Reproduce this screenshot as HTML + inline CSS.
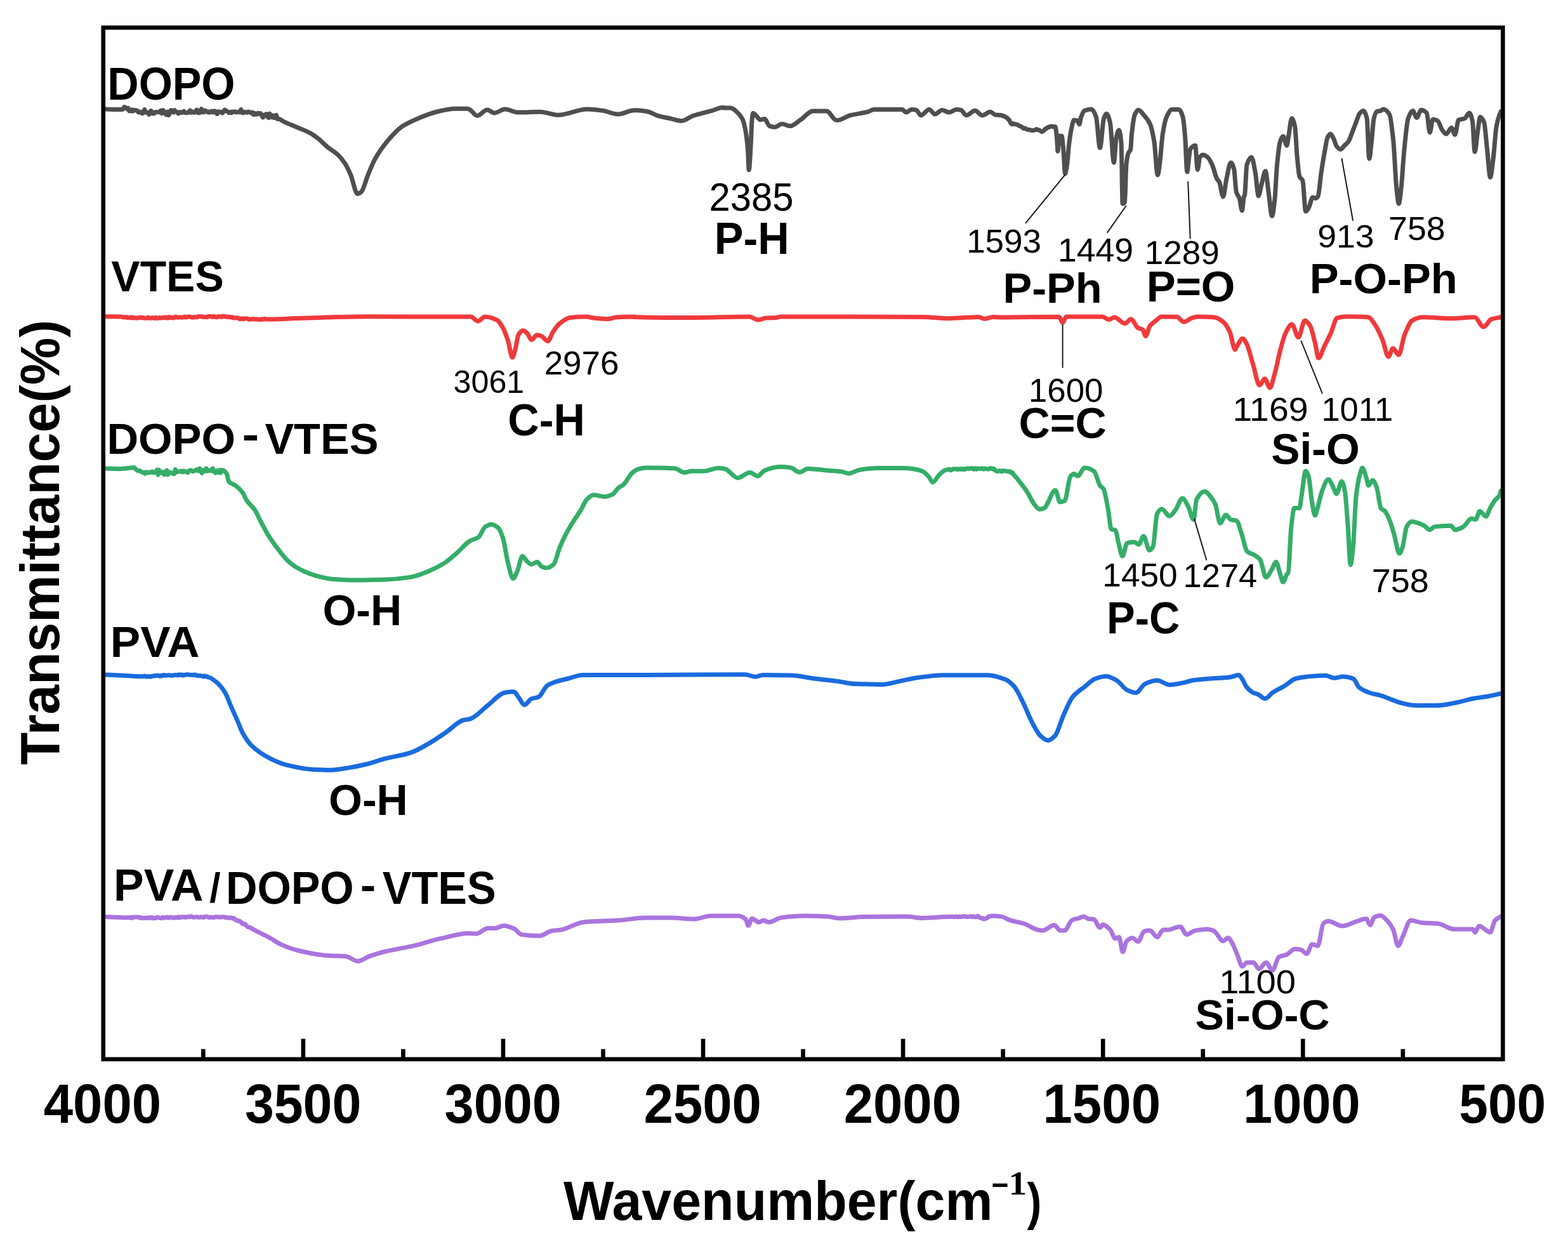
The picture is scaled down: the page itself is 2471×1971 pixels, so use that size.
<!DOCTYPE html>
<html><head><meta charset="utf-8"><title>FTIR spectra</title>
<style>html,body{margin:0;padding:0;background:#fff;}svg{display:block;}</style>
</head><body>
<svg width="2471" height="1971" viewBox="0 0 2471 1971">
<rect width="2471" height="1971" fill="#fff"/>
<path d="M165.8,172.0C174.8,172.2 183.9,172.5 193.0,172.5C194.0,172.5 195.0,168.5 196.0,168.5C196.7,168.5 197.5,169.1 198.2,169.6C198.9,170.2 199.6,171.9 200.3,171.9C200.9,171.9 201.5,170.2 202.1,170.2C202.6,170.2 203.0,174.7 203.5,174.8C204.3,174.9 205.1,175.0 205.9,175.0C206.5,175.0 207.1,172.7 207.8,172.7C208.3,172.7 208.9,175.3 209.5,175.3C210.1,175.3 210.6,173.3 211.1,173.3C211.6,173.3 212.2,173.5 212.7,173.6C213.4,173.7 214.1,173.8 214.8,173.9C215.2,173.9 215.7,174.0 216.1,174.1C216.8,174.3 217.5,176.8 218.2,176.9C218.7,176.9 219.2,176.9 219.7,176.9C220.1,176.9 220.5,176.3 220.9,176.3C221.3,176.3 221.7,176.4 222.1,176.4C222.7,176.5 223.2,178.8 223.8,178.8C224.5,178.8 225.2,178.4 225.9,177.9C226.5,177.4 227.1,172.5 227.8,172.5C228.3,172.5 228.8,175.4 229.2,176.1C229.7,176.6 230.1,177.2 230.5,177.2C231.3,177.2 232.0,177.2 232.8,177.2C233.5,177.2 234.2,180.5 235.0,180.5C235.4,180.5 235.8,177.9 236.2,177.1C236.8,175.9 237.4,174.4 238.0,174.4C238.6,174.4 239.1,175.5 239.7,176.3C240.2,177.0 240.7,179.1 241.2,179.1C242.0,179.1 242.9,178.8 243.7,178.3C244.1,178.1 244.5,176.8 245.0,176.7C245.7,176.4 246.3,176.2 247.0,176.2C247.8,176.2 248.5,176.6 249.2,176.7C249.9,176.9 250.6,177.0 251.3,177.0C252.0,177.0 252.8,174.1 253.5,174.1C254.1,174.1 254.7,178.7 255.2,178.7C255.7,178.7 256.2,173.4 256.8,173.4C257.4,173.4 258.1,175.0 258.8,175.8C259.3,176.4 259.9,176.9 260.4,177.6C261.0,178.4 261.6,180.8 262.2,180.8C262.9,180.8 263.6,176.1 264.3,176.1C264.7,176.1 265.1,181.6 265.5,181.6C266.2,181.6 266.8,179.6 267.4,178.3C268.1,177.0 268.8,173.5 269.5,173.5C270.3,173.5 271.1,175.6 271.9,176.2C272.6,176.6 273.2,177.2 273.8,177.2C274.3,177.2 274.7,173.6 275.1,173.6C275.6,173.6 276.1,175.6 276.6,175.8C277.4,176.2 278.2,176.1 279.1,176.4C279.7,176.6 280.4,178.9 281.1,178.9C281.6,178.9 282.0,176.7 282.5,176.7C283.1,176.7 283.7,176.7 284.4,176.8C284.9,176.9 285.4,177.6 285.9,177.6C286.7,177.6 287.6,177.3 288.4,176.9C288.9,176.6 289.4,175.3 289.8,175.3C290.2,175.3 290.6,177.1 290.9,177.3C291.7,177.6 292.4,177.8 293.2,177.8C293.8,177.8 294.3,177.6 294.9,177.5C295.6,177.3 296.4,177.3 297.1,177.2C297.9,177.0 298.6,174.1 299.4,174.1C300.0,174.1 300.5,177.5 301.1,177.5C301.5,177.5 301.9,175.7 302.4,175.7C303.0,175.7 303.6,176.2 304.2,176.5C304.7,176.8 305.2,177.4 305.7,177.4C306.5,177.4 307.2,176.9 307.9,176.4C308.6,175.9 309.4,173.1 310.2,173.1C310.7,173.1 311.3,177.8 311.9,177.8C312.6,177.8 313.4,177.7 314.2,177.7C314.8,177.6 315.4,177.5 316.0,177.1C316.4,176.9 316.8,171.6 317.2,171.6C317.7,171.6 318.2,172.5 318.7,173.3C319.2,174.1 319.7,176.9 320.3,176.9C320.7,176.9 321.2,174.7 321.7,174.5C322.3,174.2 322.8,174.0 323.4,174.0C324.1,174.0 324.8,176.4 325.6,176.4C326.0,176.4 326.4,176.3 326.7,176.2C327.2,176.1 327.6,175.8 328.0,175.8C328.5,175.8 329.0,177.3 329.4,177.3C330.2,177.3 331.1,176.7 331.9,176.3C332.5,176.0 333.2,175.0 333.8,175.0C334.5,175.0 335.1,177.3 335.8,177.3C336.5,177.3 337.2,174.7 337.9,174.7C338.7,174.7 339.5,175.2 340.2,175.7C340.8,176.2 341.5,179.6 342.1,179.6C342.8,179.6 343.6,175.7 344.3,175.7C345.1,175.7 345.8,176.4 346.6,176.4C347.3,176.5 347.9,176.5 348.6,176.5C349.2,176.5 349.8,178.3 350.4,178.3C351.2,178.3 351.9,176.1 352.7,175.0C353.2,174.3 353.7,173.0 354.2,173.0C355.0,173.0 355.8,174.5 356.6,174.9C357.4,175.4 358.3,175.4 359.1,175.9C359.6,176.2 360.1,177.8 360.7,177.8C361.3,177.8 361.9,176.7 362.5,176.7C363.1,176.7 363.8,177.9 364.4,177.9C364.8,177.9 365.2,175.9 365.6,175.9C366.4,175.9 367.2,176.6 368.0,176.6C368.7,176.6 369.4,175.7 370.2,175.7C370.7,175.7 371.2,176.8 371.8,176.8C372.4,176.8 373.1,176.8 373.8,176.8C374.5,176.8 375.2,176.3 375.9,176.3C376.7,176.3 377.5,176.8 378.3,176.8C378.8,176.8 379.3,172.4 379.8,172.4C380.2,172.4 380.7,175.6 381.1,176.3C381.7,177.2 382.3,178.1 382.9,178.1C383.6,178.1 384.3,176.2 385.1,176.2C385.7,176.2 386.3,176.5 386.9,176.6C387.7,176.8 388.4,177.4 389.2,177.4C390.0,177.4 390.8,176.0 391.6,176.0C392.4,176.0 393.3,177.0 394.1,177.3C394.5,177.4 394.9,177.5 395.4,177.6C395.7,177.8 396.1,178.4 396.5,178.4C396.8,178.4 397.2,177.1 397.6,177.1C398.4,177.1 399.2,180.7 400.0,180.7C400.4,180.7 400.7,178.3 401.1,178.3C401.5,178.3 401.9,180.3 402.3,180.3C403.0,180.3 403.8,180.2 404.6,180.1C405.3,179.9 406.1,178.1 406.8,178.1C407.5,178.1 408.3,179.6 409.0,179.6C409.5,179.6 409.9,178.5 410.4,178.5C411.1,178.5 411.9,180.3 412.6,181.6C413.2,182.5 413.8,185.0 414.4,185.0C415.1,185.0 415.8,181.1 416.5,181.1C417.2,181.1 417.9,181.5 418.6,181.5C419.0,181.5 419.4,179.5 419.7,179.5C420.3,179.5 421.0,182.8 421.6,183.7C422.2,184.6 422.8,185.7 423.4,185.7C423.8,185.7 424.2,179.0 424.7,179.0C425.4,179.0 426.1,181.5 426.9,182.4C427.6,183.3 428.3,184.7 429.0,184.7C429.5,184.7 430.0,181.9 430.5,181.9C430.9,181.9 431.4,185.6 431.8,185.6C432.6,185.6 433.4,185.1 434.2,184.4C434.6,184.0 435.0,181.3 435.4,181.3C435.9,181.3 436.4,187.6 437.0,187.6C437.4,187.6 437.8,186.9 438.2,186.9C441.0,186.9 443.8,190.0 446.6,191.3C453.1,194.4 459.6,196.9 466.1,199.7C473.5,202.9 481.0,205.3 488.4,209.4C493.0,211.9 497.7,215.5 502.3,219.1C506.9,222.8 511.6,227.9 516.2,231.7C521.8,236.2 527.3,238.9 532.9,244.2C536.6,247.7 540.3,252.3 544.0,258.1C546.8,262.4 549.6,268.4 552.4,274.8C556.1,283.3 559.8,305.4 563.5,305.4C565.4,305.4 567.2,304.1 569.1,302.6C572.8,299.8 576.5,283.6 580.2,274.8C583.9,266.0 587.6,256.4 591.4,249.8C597.8,238.2 604.3,229.6 610.8,221.9C618.3,213.2 625.7,204.7 633.1,199.7C642.4,193.4 651.7,189.6 660.9,185.8C670.2,181.9 679.5,178.1 688.8,176.0C698.0,173.9 707.3,171.3 716.6,171.3C723.1,171.3 729.6,171.3 736.1,171.3C737.4,171.3 738.7,171.9 740.0,172.5C744.0,174.1 748.0,182.3 752.1,182.3C757.3,182.3 762.6,173.0 767.8,173.0C771.5,173.0 775.3,178.0 779.0,178.0C784.5,178.0 790.1,171.9 795.7,171.9C802.5,171.9 809.3,177.1 816.1,177.1C827.8,177.1 839.6,176.2 851.3,176.2C860.6,176.2 869.9,181.2 879.1,181.2C894.6,181.2 910.1,171.9 925.5,171.9C933.6,171.9 941.6,173.2 949.6,174.3C957.7,175.4 965.7,179.9 973.8,179.9C982.4,179.9 991.1,173.8 999.7,173.8C1005.9,173.8 1012.1,174.4 1018.3,175.3C1024.5,176.1 1030.7,180.5 1036.8,182.3C1044.3,184.4 1051.7,185.7 1059.1,187.3C1064.1,188.4 1069.0,190.5 1074.0,190.5C1080.1,190.5 1086.3,184.4 1092.5,182.3C1101.8,179.2 1111.1,177.4 1120.3,174.9C1126.9,173.1 1133.4,169.3 1140.0,169.3C1140.0,169.3 1140.0,170.1 1140.0,170.1C1143.7,170.1 1147.3,170.1 1150.9,170.1C1155.3,170.1 1159.6,174.8 1163.9,179.1C1166.1,181.2 1168.3,184.0 1170.5,188.8C1172.1,192.5 1173.7,199.1 1175.3,208.4C1176.4,214.5 1177.5,224.0 1178.6,237.7C1179.1,244.5 1179.7,267.8 1180.2,267.8C1181.0,267.8 1181.9,250.1 1182.7,237.7C1183.5,225.2 1184.3,196.6 1185.1,188.8C1185.6,183.7 1186.2,178.3 1186.7,178.3C1188.4,178.3 1190.0,180.8 1191.6,182.3C1193.8,184.3 1196.0,188.8 1198.1,188.8C1200.3,188.8 1202.5,187.2 1204.6,187.2C1207.4,187.2 1210.1,197.7 1212.8,198.6C1215.5,199.5 1218.2,200.2 1220.9,200.2C1224.7,200.2 1228.5,195.3 1232.3,195.3C1236.7,195.3 1241.0,198.6 1245.3,198.6C1250.8,198.6 1256.2,192.3 1261.6,188.8C1268.1,184.6 1274.6,175.0 1281.1,175.0C1288.2,175.0 1295.3,175.0 1302.3,175.0C1307.7,175.0 1313.2,189.6 1318.6,189.6C1325.7,189.6 1332.9,183.6 1340.0,181.7C1349.3,179.3 1358.6,178.8 1367.8,176.2C1370.9,175.3 1374.0,172.5 1377.1,172.5C1391.9,172.5 1406.8,172.5 1421.6,172.5C1423.8,172.5 1426.0,177.1 1428.1,177.1C1430.9,177.1 1433.7,172.5 1436.5,172.5C1438.9,172.5 1441.4,172.8 1443.9,173.4C1446.4,174.0 1448.8,181.7 1451.3,181.7C1455.6,181.7 1460.0,172.5 1464.3,172.5C1467.4,172.5 1470.5,179.9 1473.6,179.9C1477.3,179.9 1481.0,173.4 1484.7,173.4C1488.4,173.4 1492.1,177.1 1495.8,177.1C1499.6,177.1 1503.3,172.5 1507.0,172.5C1509.4,172.5 1511.9,172.9 1514.4,173.4C1517.2,174.0 1520.0,181.7 1522.7,181.7C1527.4,181.7 1532.0,174.3 1536.7,174.3C1540.4,174.3 1544.1,181.7 1547.8,181.7C1552.1,181.7 1556.5,176.2 1560.8,176.2C1563.3,176.2 1565.7,180.4 1568.2,180.8C1571.9,181.4 1575.6,181.0 1579.3,181.7C1579.6,181.8 1579.8,182.7 1580.0,182.7C1580.5,182.8 1581.1,182.7 1581.6,182.8C1582.5,182.9 1583.4,183.8 1584.3,184.3C1585.2,184.8 1586.1,184.9 1587.0,185.6C1587.5,186.0 1588.1,188.0 1588.6,188.1C1589.0,188.1 1589.4,188.1 1589.8,188.2C1590.7,188.3 1591.6,192.4 1592.5,193.5C1593.4,194.6 1594.2,195.8 1595.0,195.8C1595.6,195.8 1596.1,194.6 1596.7,194.6C1597.2,194.6 1597.7,195.5 1598.1,195.5C1598.9,195.6 1599.7,195.6 1600.4,195.7C1601.2,195.7 1602.0,196.0 1602.8,196.3C1603.4,196.6 1604.0,197.0 1604.6,197.3C1605.1,197.6 1605.6,198.0 1606.2,198.2C1607.0,198.6 1607.8,198.7 1608.6,199.1C1609.5,199.5 1610.4,200.3 1611.3,201.0C1611.9,201.5 1612.6,202.4 1613.2,202.4C1613.9,202.4 1614.6,202.0 1615.4,202.0C1615.8,202.0 1616.2,202.8 1616.7,203.1C1617.5,203.6 1618.3,204.2 1619.1,204.2C1619.7,204.3 1620.4,204.2 1621.1,204.3C1621.6,204.3 1622.1,204.4 1622.6,204.5C1623.4,204.6 1624.2,205.0 1625.0,205.2C1625.7,205.3 1626.3,205.5 1627.0,205.5C1627.7,205.5 1628.5,205.2 1629.3,205.1C1630.1,205.0 1630.9,205.0 1631.7,204.7C1632.1,204.6 1632.6,203.6 1633.0,203.6C1633.9,203.6 1634.8,204.4 1635.7,204.6C1636.2,204.6 1636.6,204.6 1637.1,204.7C1638.0,204.8 1638.9,205.8 1639.9,206.4C1640.4,206.8 1641.0,207.5 1641.5,207.5C1642.1,207.5 1642.6,207.2 1643.1,206.9C1643.7,206.7 1644.2,206.5 1644.7,206.1C1645.6,205.5 1646.4,203.2 1647.3,203.0C1647.7,203.0 1648.1,203.0 1648.6,202.9C1649.5,202.8 1650.4,200.5 1651.3,200.5C1651.8,200.5 1652.3,200.6 1652.8,200.6C1653.6,200.6 1654.4,199.3 1655.2,199.1C1655.9,199.0 1656.6,198.9 1657.4,198.9C1658.1,198.9 1658.7,199.7 1659.4,199.7C1660.5,199.7 1661.7,199.4 1662.8,199.4C1663.7,199.4 1664.7,208.8 1665.6,217.9C1666.0,222.2 1666.5,238.3 1666.9,238.3C1667.7,238.3 1668.5,214.2 1669.3,214.2C1670.6,214.2 1671.8,214.2 1673.0,214.2C1674.0,214.2 1674.9,227.2 1675.8,236.5C1676.7,245.8 1677.7,273.6 1678.6,273.6C1679.5,273.6 1680.4,266.4 1681.4,260.6C1682.6,252.9 1683.8,232.8 1685.1,223.5C1686.3,214.2 1687.6,206.4 1688.8,201.2C1690.0,196.0 1691.3,189.2 1692.5,189.2C1694.4,189.2 1696.2,189.5 1698.1,190.1C1699.0,190.4 1699.9,195.7 1700.9,195.7C1701.8,195.7 1702.7,187.0 1703.6,184.5C1705.5,179.7 1707.3,175.1 1709.2,174.3C1712.8,172.8 1716.4,172.0 1720.0,172.0C1722.4,172.0 1724.9,177.3 1727.3,184.2C1729.4,189.9 1731.4,233.0 1733.4,233.0C1735.5,233.0 1737.5,192.1 1739.5,186.6C1741.0,182.8 1742.4,179.3 1743.8,179.3C1745.6,179.3 1747.5,185.6 1749.3,192.7C1751.3,200.7 1753.4,256.2 1755.4,256.2C1756.6,256.2 1757.8,222.7 1759.1,217.1C1760.5,210.6 1761.9,204.9 1763.3,204.9C1764.6,204.9 1765.8,212.4 1767.0,225.7C1767.7,233.2 1768.4,320.9 1769.1,320.9C1770.2,320.9 1771.4,320.1 1772.5,318.5C1773.3,317.3 1774.1,267.9 1774.9,259.9C1775.9,249.9 1777.0,244.3 1778.0,241.6C1779.2,238.3 1780.4,239.4 1781.6,235.4C1782.3,233.5 1782.9,216.5 1783.5,211.0C1785.1,196.4 1786.7,184.1 1788.4,180.5C1790.2,176.4 1792.0,173.2 1793.9,173.2C1796.9,173.2 1800.0,178.2 1803.0,181.7C1806.3,185.5 1809.5,188.8 1812.8,196.4C1814.8,201.1 1816.8,210.9 1818.9,223.2C1820.7,234.3 1822.5,275.7 1824.4,275.7C1825.4,275.7 1826.4,266.7 1827.4,259.9C1829.0,249.0 1830.7,221.1 1832.3,211.0C1834.3,198.4 1836.4,188.5 1838.4,184.2C1841.3,178.1 1844.1,172.6 1847.0,172.6C1850.6,172.6 1854.3,172.6 1857.9,172.6C1860.0,172.6 1862.0,177.4 1864.0,184.2C1865.3,188.2 1866.5,202.5 1867.7,217.1C1868.7,229.4 1869.7,270.8 1870.8,270.8C1871.8,270.8 1872.8,254.8 1873.8,247.7C1874.4,243.3 1875.0,236.5 1875.6,235.4C1878.3,231.1 1880.9,229.3 1883.6,229.3C1884.8,229.3 1886.0,267.2 1887.2,267.2C1888.5,267.2 1889.7,249.3 1890.9,247.7C1892.5,245.4 1894.2,244.0 1895.8,244.0C1898.2,244.0 1900.7,245.8 1903.1,247.7C1905.5,249.5 1908.0,254.6 1910.4,259.9C1912.9,265.1 1915.3,277.5 1917.8,281.8C1919.0,284.0 1920.2,284.4 1921.4,286.7C1923.5,290.6 1925.5,309.9 1927.5,309.9C1929.1,309.9 1930.8,291.6 1932.4,284.3C1934.8,273.3 1937.3,256.2 1939.7,256.2C1941.4,256.2 1943.0,260.4 1944.6,266.0C1945.8,270.2 1947.1,298.4 1948.3,302.6C1949.9,308.2 1951.5,307.8 1953.2,312.4C1954.6,316.4 1956.0,331.9 1957.4,331.9C1958.4,331.9 1959.5,308.7 1960.5,308.7C1960.7,308.7 1961.0,308.7 1961.2,308.7C1962.4,308.7 1963.7,263.8 1964.9,259.9C1967.3,251.9 1969.8,247.7 1972.2,247.7C1974.2,247.7 1976.3,261.3 1978.3,272.1C1979.9,280.7 1981.6,308.7 1983.2,308.7C1984.8,308.7 1986.4,296.2 1988.1,290.4C1990.1,283.1 1992.1,269.6 1994.2,269.6C1995.8,269.6 1997.4,291.5 1999.1,302.6C2000.9,315.1 2002.7,340.4 2004.6,340.4C2006.0,340.4 2007.4,327.1 2008.8,314.8C2010.0,304.2 2011.3,272.3 2012.5,259.9C2014.1,243.3 2015.7,227.9 2017.4,223.2C2019.0,218.6 2020.6,214.7 2022.3,214.7C2024.1,214.7 2025.9,229.3 2027.7,229.3C2028.8,229.3 2029.8,218.9 2030.8,213.5C2032.4,204.8 2034.1,186.6 2035.7,186.6C2037.3,186.6 2038.9,191.7 2040.6,198.8C2041.8,204.1 2043.0,235.1 2044.2,247.7C2045.4,260.2 2046.7,275.4 2047.9,278.2C2049.5,281.8 2051.1,280.7 2052.8,284.3C2054.4,287.9 2056.0,333.1 2057.7,333.1C2059.3,333.1 2060.9,329.7 2062.5,327.0C2064.6,323.6 2066.6,311.1 2068.6,311.1C2070.3,311.1 2071.9,312.4 2073.5,312.4C2074.7,312.4 2076.0,310.8 2077.2,308.7C2078.8,305.9 2080.4,283.0 2082.1,272.1C2084.1,258.5 2086.1,246.5 2088.2,235.4C2089.4,228.8 2090.6,219.7 2091.8,217.1C2093.5,213.8 2095.1,211.0 2096.7,211.0C2098.3,211.0 2100.0,215.3 2101.6,218.4C2103.2,221.4 2104.9,228.6 2106.5,230.6C2108.5,233.1 2110.6,235.4 2112.6,235.4C2114.6,235.4 2116.7,231.4 2118.7,229.3C2120.7,227.3 2122.8,226.1 2124.8,223.2C2126.8,220.4 2128.9,213.7 2130.9,208.6C2132.9,203.5 2135.0,197.8 2137.0,192.7C2139.0,187.6 2141.1,180.2 2143.1,178.1C2144.9,176.2 2146.8,174.4 2148.6,174.4C2150.4,174.4 2152.3,179.0 2154.1,186.6C2155.3,191.7 2156.5,250.1 2157.8,250.1C2159.0,250.1 2160.2,233.6 2161.4,223.2C2162.6,212.9 2163.9,191.2 2165.1,186.6C2166.7,180.5 2168.3,176.3 2170.0,175.6C2172.0,174.9 2174.0,175.1 2176.1,174.4C2177.4,174.0 2178.7,172.0 2180.0,172.0C2183.3,172.0 2186.5,175.1 2189.8,180.5C2191.8,183.9 2193.8,203.6 2195.9,223.3C2197.5,239.0 2199.1,281.8 2200.8,296.5C2202.0,307.6 2203.2,320.9 2204.4,320.9C2205.6,320.9 2206.9,307.0 2208.1,296.5C2209.7,282.6 2211.3,251.5 2213.0,235.5C2215.0,215.5 2217.0,192.4 2219.1,186.6C2221.5,179.8 2224.0,174.4 2226.4,174.4C2228.4,174.4 2230.5,185.4 2232.5,185.4C2234.9,185.4 2237.4,173.2 2239.8,173.2C2242.7,173.2 2245.5,174.9 2248.4,178.1C2250.0,179.9 2251.6,208.6 2253.3,208.6C2254.9,208.6 2256.5,187.9 2258.1,187.9C2260.6,187.9 2263.0,188.9 2265.5,190.3C2267.9,191.7 2270.4,201.7 2272.8,204.9C2274.8,207.6 2276.9,211.1 2278.9,211.1C2281.8,211.1 2284.6,201.3 2287.4,201.3C2289.3,201.3 2291.1,212.3 2292.9,212.3C2294.8,212.3 2296.6,190.0 2298.4,189.1C2301.7,187.4 2304.9,188.0 2308.2,186.6C2310.6,185.6 2313.1,178.1 2315.5,178.1C2317.2,178.1 2318.8,183.2 2320.4,190.3C2321.6,195.6 2322.9,239.1 2324.1,239.1C2325.7,239.1 2327.3,215.1 2329.0,204.9C2330.2,197.3 2331.4,184.2 2332.6,184.2C2334.7,184.2 2336.7,187.7 2338.7,192.7C2340.4,196.8 2342.0,221.0 2343.6,235.5C2345.2,249.9 2346.9,279.4 2348.5,279.4C2350.1,279.4 2351.8,260.5 2353.4,247.7C2355.0,234.9 2356.6,207.7 2358.3,198.8C2359.9,190.0 2361.5,184.9 2363.2,180.5C2363.9,178.5 2364.6,177.3 2365.3,175.6" fill="none" stroke="#4f4f4f" stroke-width="7.0" stroke-linejoin="round" stroke-linecap="round"/>
<path d="M165.8,498.8C174.5,498.9 183.2,498.8 192.0,499.1C192.8,499.1 193.7,500.1 194.5,500.1C195.1,500.1 195.7,499.4 196.3,499.4C197.1,499.4 197.8,500.0 198.6,500.0C199.1,500.0 199.5,499.6 200.0,499.6C200.4,499.6 200.8,500.5 201.2,500.5C201.9,500.5 202.6,500.1 203.3,500.1C203.8,500.1 204.3,500.1 204.8,500.2C205.4,500.3 206.0,501.1 206.6,501.1C207.1,501.1 207.7,499.8 208.3,499.8C208.8,499.8 209.4,500.9 210.0,500.9C210.6,500.9 211.3,500.7 212.0,500.7C212.8,500.7 213.6,501.0 214.4,501.0C215.3,501.1 216.2,501.1 217.1,501.1C217.9,501.1 218.7,500.2 219.5,500.1C220.2,500.0 220.8,500.0 221.4,500.0C221.8,500.0 222.2,500.9 222.6,500.9C223.4,500.9 224.2,500.3 224.9,500.3C225.8,500.3 226.7,501.3 227.6,501.3C228.5,501.3 229.3,501.1 230.2,501.1C230.8,501.1 231.5,501.1 232.2,501.0C232.8,501.0 233.4,500.1 234.0,500.1C234.8,500.1 235.6,501.5 236.4,501.5C237.2,501.5 238.1,500.9 238.9,500.8C239.8,500.7 240.8,500.6 241.7,500.6C242.4,500.6 243.0,501.5 243.7,501.5C244.3,501.5 244.9,500.2 245.5,500.2C246.4,500.2 247.3,501.6 248.2,501.6C248.9,501.6 249.5,501.5 250.1,501.3C250.5,501.2 250.9,500.2 251.3,500.2C252.2,500.2 253.0,501.0 253.8,501.0C254.4,501.0 255.0,501.0 255.6,500.9C256.5,500.8 257.4,499.9 258.3,499.9C259.1,499.9 259.8,500.9 260.6,500.9C261.3,500.9 262.0,499.7 262.7,499.7C263.2,499.7 263.7,501.2 264.2,501.2C265.1,501.2 266.0,499.6 266.8,499.6C267.4,499.6 267.9,500.6 268.4,500.6C268.9,500.6 269.3,499.9 269.8,499.9C270.7,499.9 271.6,500.9 272.5,500.9C273.1,500.9 273.7,500.9 274.3,500.8C274.9,500.7 275.5,499.3 276.2,499.3C276.8,499.3 277.5,499.4 278.1,499.4C278.8,499.5 279.5,500.2 280.1,500.2C281.0,500.2 281.8,499.9 282.6,499.9C283.4,499.9 284.3,499.9 285.1,499.9C285.8,499.9 286.4,499.9 287.1,499.9C287.7,499.9 288.2,500.1 288.7,500.1C289.3,500.1 289.8,498.9 290.4,498.9C291.2,498.9 292.0,500.1 292.8,500.1C293.4,500.1 293.9,499.3 294.5,499.2C295.1,499.0 295.7,498.9 296.4,498.9C297.2,498.9 298.0,498.9 298.8,499.0C299.7,499.1 300.7,499.6 301.6,499.8C302.5,500.0 303.3,500.2 304.2,500.2C304.7,500.2 305.1,499.4 305.6,499.4C306.3,499.4 307.1,499.7 307.8,499.7C308.3,499.7 308.8,499.7 309.3,499.7C309.7,499.7 310.1,499.7 310.5,499.7C311.3,499.7 312.0,498.5 312.7,498.5C313.4,498.5 314.2,498.6 314.9,498.7C315.8,498.7 316.7,498.8 317.6,498.8C318.4,498.9 319.3,499.2 320.2,499.3C321.1,499.4 322.0,499.6 322.9,499.6C323.7,499.6 324.6,499.0 325.4,499.0C325.9,499.0 326.4,499.7 327.0,499.7C327.6,499.7 328.3,498.6 328.9,498.6C329.6,498.6 330.3,498.6 331.0,498.6C331.7,498.5 332.4,498.5 333.1,498.5C333.8,498.5 334.4,499.5 335.0,499.5C335.8,499.5 336.5,498.4 337.3,498.4C338.1,498.4 339.0,499.6 339.9,499.6C340.6,499.7 341.3,499.7 342.0,499.7C342.8,499.7 343.6,498.5 344.4,498.5C345.1,498.4 345.9,498.4 346.6,498.4C347.1,498.4 347.6,499.5 348.1,499.5C348.5,499.5 349.0,499.5 349.4,499.4C350.0,499.4 350.6,497.9 351.2,497.9C351.7,497.9 352.1,498.9 352.6,498.9C353.2,498.9 353.9,498.4 354.5,498.4C355.3,498.4 356.0,499.0 356.8,499.2C357.4,499.3 358.1,499.5 358.7,499.5C359.5,499.5 360.2,499.0 361.0,499.0C361.9,499.0 362.9,500.1 363.8,500.1C364.5,500.1 365.2,499.6 366.0,499.6C366.6,499.6 367.2,501.1 367.8,501.1C368.7,501.1 369.5,500.8 370.4,500.7C371.3,500.7 372.3,500.6 373.2,500.6C374.0,500.6 374.8,501.6 375.6,501.6C376.0,501.6 376.5,501.5 376.9,501.5C377.5,501.5 378.1,502.9 378.6,502.9C379.1,502.9 379.6,502.0 380.1,502.0C380.8,502.0 381.5,502.0 382.2,502.0C382.6,502.0 383.1,502.9 383.6,502.9C384.3,502.9 385.0,502.0 385.8,501.9C386.5,501.8 387.2,501.7 387.9,501.7C388.7,501.7 389.6,502.0 390.4,502.2C391.2,502.4 391.9,503.3 392.7,503.3C393.6,503.3 394.4,503.2 395.3,503.0C395.7,503.0 396.1,502.8 396.5,502.7C397.4,502.6 398.4,502.5 399.3,502.5C400.0,502.5 400.6,503.3 401.2,503.3C401.9,503.3 402.6,502.8 403.3,502.8C404.1,502.8 405.0,503.0 405.8,503.1C406.7,503.2 407.7,503.5 408.6,503.5C409.2,503.5 409.9,503.5 410.6,503.5C411.1,503.5 411.6,502.8 412.1,502.8C413.0,502.8 413.8,503.3 414.6,503.3C415.3,503.3 416.0,502.2 416.7,502.2C417.6,502.2 418.4,503.0 419.3,503.0C434.9,503.0 450.5,502.1 466.1,501.6C480.0,501.1 494.0,500.5 507.9,500.2C531.1,499.6 554.2,498.8 577.4,498.8C618.3,498.8 659.1,499.1 700.0,499.1C714.0,499.1 727.9,499.1 741.9,499.1C745.6,499.1 749.3,506.0 753.0,506.0C756.7,506.0 760.5,499.1 764.2,499.1C770.7,499.1 777.2,501.3 783.7,504.7C786.5,506.1 789.3,511.0 792.1,515.8C794.9,520.7 797.7,528.3 800.5,536.7C802.8,543.8 805.1,563.3 807.4,563.3C808.8,563.3 810.2,556.7 811.6,552.1C813.5,545.9 815.3,529.8 817.2,527.0C819.5,523.4 821.9,520.7 824.2,520.7C826.5,520.7 828.8,523.3 831.2,525.6C833.3,527.6 835.3,535.3 837.4,535.3C840.5,535.3 843.5,527.7 846.5,527.7C848.8,527.7 851.2,528.8 853.5,529.8C856.7,531.1 860.0,537.4 863.3,537.4C866.0,537.4 868.8,526.9 871.6,522.8C874.9,517.9 878.1,512.9 881.4,510.2C887.0,505.6 892.6,501.1 898.1,500.5C906.5,499.6 914.9,499.1 923.3,499.1C927.9,499.1 932.6,500.7 937.2,501.2C944.2,501.8 951.2,502.6 958.1,502.6C962.8,502.6 967.4,500.0 972.1,499.8C981.4,499.3 990.7,499.1 1000.0,499.1C1000.0,499.1 1000.0,499.5 1000.0,499.5C1027.9,500.4 1055.7,500.4 1083.5,500.4C1116.0,500.4 1148.4,499.0 1180.9,499.0C1185.5,499.0 1190.2,504.0 1194.8,504.0C1198.5,504.0 1202.2,501.5 1205.9,501.2C1211.5,500.7 1217.1,500.8 1222.6,500.4C1225.4,500.1 1228.2,499.0 1231.0,499.0C1306.1,499.0 1381.3,499.1 1456.4,499.5C1468.5,499.6 1480.5,501.7 1492.6,501.7C1509.3,501.7 1526.0,499.5 1542.7,499.5C1545.5,499.5 1548.2,502.3 1551.0,502.3C1555.7,502.3 1560.3,499.5 1564.9,499.5C1570.0,499.5 1575.0,499.9 1580.0,499.9C1609.7,499.9 1639.4,499.3 1669.1,499.3C1670.9,499.3 1672.8,508.2 1674.6,508.2C1676.5,508.2 1678.3,499.0 1680.2,499.0C1699.4,499.0 1718.5,499.0 1737.7,499.0C1740.8,499.0 1743.9,503.6 1747.0,503.6C1750.1,503.6 1753.2,499.9 1756.3,499.9C1761.8,499.9 1767.4,509.7 1772.9,509.7C1776.0,509.7 1779.1,502.7 1782.2,502.7C1785.9,502.7 1789.6,514.5 1793.4,516.6C1795.8,518.0 1798.3,517.7 1800.8,519.4C1802.3,520.4 1803.9,529.6 1805.4,529.6C1807.6,529.6 1809.7,516.7 1811.9,513.8C1815.0,509.6 1818.1,507.9 1821.2,505.5C1824.3,503.0 1827.4,499.0 1830.5,499.0C1838.5,499.0 1846.5,499.1 1854.6,499.3C1858.3,499.5 1862.0,507.3 1865.7,507.3C1869.4,507.3 1873.1,503.1 1876.8,501.7C1879.9,500.6 1883.0,499.0 1886.1,499.0C1895.4,499.0 1904.7,499.2 1914.0,499.9C1918.9,500.2 1923.8,504.0 1928.8,508.2C1931.9,510.9 1935.0,516.4 1938.1,523.1C1940.9,529.1 1943.6,550.9 1946.4,550.9C1947.0,550.9 1947.6,548.7 1948.2,547.8C1951.6,542.2 1955.0,533.5 1958.4,533.5C1960.4,533.5 1962.4,537.9 1964.5,541.6C1967.9,547.8 1971.3,563.4 1974.7,574.3C1978.1,585.2 1981.5,606.9 1984.9,606.9C1987.6,606.9 1990.3,596.7 1993.1,596.7C1995.8,596.7 1998.5,611.0 2001.2,611.0C2003.9,611.0 2006.7,596.1 2009.4,586.5C2012.1,577.0 2014.8,561.9 2017.6,551.8C2020.3,541.8 2023.0,530.7 2025.7,525.3C2029.1,518.6 2032.5,511.0 2035.9,511.0C2039.3,511.0 2042.7,531.4 2046.1,531.4C2049.5,531.4 2052.9,504.9 2056.3,504.9C2059.0,504.9 2061.8,508.8 2064.5,513.1C2067.2,517.3 2069.9,530.9 2072.7,541.6C2074.4,548.3 2076.1,564.1 2077.8,564.1C2080.8,564.1 2083.9,551.8 2086.9,545.7C2090.3,538.9 2093.7,532.7 2097.1,525.3C2100.5,517.9 2103.9,501.7 2107.3,500.8C2112.8,499.4 2118.2,498.8 2123.7,498.8C2134.6,498.8 2145.4,499.0 2156.3,499.8C2159.7,500.0 2163.1,506.2 2166.5,511.0C2170.6,516.8 2174.7,525.8 2178.8,535.5C2181.8,542.8 2184.9,562.0 2188.0,562.0C2190.3,562.0 2192.7,548.8 2195.1,548.8C2198.2,548.8 2201.2,559.0 2204.3,559.0C2207.3,559.0 2210.4,534.8 2213.5,527.3C2217.6,517.4 2221.6,507.2 2225.7,504.9C2231.2,501.9 2236.6,499.8 2242.0,499.8C2257.0,499.8 2272.0,501.8 2286.9,501.8C2299.2,501.8 2311.4,499.8 2323.7,499.8C2328.4,499.8 2333.2,515.1 2338.0,515.1C2342.0,515.1 2346.1,504.3 2350.2,502.9C2355.3,501.1 2360.3,500.8 2365.3,499.8" fill="none" stroke="#ef3a3c" stroke-width="7.0" stroke-linejoin="round" stroke-linecap="round"/>
<path d="M165.8,738.0C173.1,738.2 180.5,738.8 187.8,738.8C195.9,738.8 203.9,736.8 212.0,736.8C212.7,736.8 213.4,738.9 214.1,739.4C214.5,739.8 214.9,740.0 215.3,740.2C216.1,740.8 216.9,741.9 217.7,741.9C218.5,741.9 219.3,741.5 220.2,741.5C220.8,741.5 221.5,742.3 222.1,742.7C222.8,743.1 223.4,743.9 224.1,744.1C224.8,744.3 225.6,744.3 226.3,744.6C227.1,744.8 227.8,746.4 228.5,746.4C228.9,746.4 229.3,743.7 229.7,743.7C230.6,743.7 231.5,745.1 232.4,745.1C232.8,745.1 233.2,744.1 233.6,744.1C234.3,744.1 234.9,744.8 235.5,744.8C236.0,744.8 236.5,744.7 236.9,744.6C237.7,744.5 238.5,743.0 239.3,743.0C239.8,743.0 240.2,743.1 240.7,743.3C241.1,743.5 241.6,744.9 242.0,744.9C242.9,744.9 243.7,743.8 244.5,743.8C245.0,743.8 245.6,743.8 246.1,743.8C246.6,743.8 247.0,740.1 247.5,740.1C248.0,740.1 248.5,748.2 249.0,748.2C249.5,748.2 250.0,740.5 250.5,740.5C251.1,740.5 251.6,742.6 252.1,743.3C252.8,744.1 253.4,745.3 254.1,745.3C255.0,745.3 255.9,743.8 256.8,743.8C257.5,743.8 258.1,747.8 258.8,747.8C259.2,747.8 259.6,744.1 260.0,744.1C260.4,744.1 260.8,744.9 261.2,744.9C261.7,744.9 262.2,740.9 262.7,740.9C263.2,740.9 263.7,748.1 264.2,748.1C265.1,748.1 266.0,744.0 266.8,744.0C267.5,744.0 268.1,744.3 268.7,744.5C269.4,744.7 270.0,744.8 270.7,745.1C271.3,745.4 272.0,746.5 272.6,746.5C273.4,746.5 274.2,746.5 274.9,746.5C275.4,746.5 275.8,739.5 276.3,739.5C276.7,739.5 277.2,743.7 277.6,743.7C278.4,743.7 279.1,743.5 279.8,743.4C280.4,743.2 280.9,742.9 281.5,742.9C282.1,742.8 282.7,742.9 283.3,742.8C284.0,742.7 284.8,742.1 285.6,742.1C286.2,742.1 286.9,744.0 287.5,744.0C288.0,744.0 288.6,742.0 289.1,742.0C289.7,742.0 290.3,742.2 290.8,742.4C291.3,742.5 291.7,743.4 292.2,743.4C292.6,743.4 293.0,742.8 293.4,742.8C294.3,742.8 295.1,744.8 296.0,744.8C296.6,744.8 297.3,742.2 297.9,741.8C298.7,741.3 299.6,740.8 300.4,740.8C300.8,740.8 301.2,741.1 301.7,741.3C302.5,741.7 303.4,742.7 304.3,742.7C304.8,742.7 305.3,742.4 305.8,742.1C306.7,741.8 307.5,741.4 308.4,740.9C308.8,740.6 309.3,739.8 309.7,739.8C310.6,739.8 311.5,742.0 312.4,742.0C313.1,742.0 313.8,738.2 314.6,738.2C315.2,738.2 315.9,739.8 316.6,741.1C317.1,742.1 317.6,745.4 318.1,745.4C319.0,745.4 320.0,740.7 320.9,740.7C321.5,740.7 322.2,742.6 322.8,742.6C323.5,742.6 324.2,738.1 324.9,738.1C325.7,738.1 326.5,742.2 327.3,742.2C327.8,742.2 328.2,741.0 328.7,741.0C329.3,740.9 329.9,740.8 330.5,740.8C331.3,740.8 332.1,741.9 332.8,741.9C333.7,741.9 334.5,738.1 335.4,738.1C336.0,738.1 336.5,741.2 337.0,742.1C337.9,743.5 338.8,745.1 339.7,745.1C340.5,745.1 341.3,741.4 342.1,741.4C342.9,741.4 343.7,744.4 344.5,744.4C345.0,744.4 345.5,740.6 346.0,740.6C346.6,740.6 347.2,744.9 347.8,744.9C348.4,744.9 349.0,740.5 349.7,740.5C352.3,740.5 355.0,743.0 357.6,747.1C358.5,748.6 359.4,757.1 360.4,758.3C364.1,763.0 367.8,762.4 371.5,765.2C375.2,768.1 378.9,771.2 382.6,776.4C384.5,778.9 386.3,784.6 388.2,787.5C392.8,794.7 397.5,797.1 402.1,804.2C404.9,808.5 407.7,815.6 410.5,820.9C415.1,829.7 419.7,838.6 424.4,845.9C429.0,853.2 433.7,859.4 438.3,865.4C442.9,871.4 447.6,877.7 452.2,882.1C456.8,886.6 461.5,890.5 466.1,893.2C475.4,898.8 484.7,902.9 494.0,905.8C503.2,908.6 512.5,911.4 521.8,912.2C535.7,913.3 549.6,914.1 563.5,914.1C577.4,914.1 591.4,913.7 605.3,913.3C619.2,912.8 633.1,911.5 647.0,909.4C656.3,908.0 665.6,903.9 674.8,900.2C683.2,896.8 691.6,892.7 700.0,887.4C706.2,883.5 712.4,877.8 718.6,872.5C726.0,866.2 733.4,856.3 740.8,852.1C745.1,849.7 749.5,849.5 753.8,846.6C757.5,844.1 761.2,832.2 764.9,829.9C768.0,828.0 771.1,826.2 774.2,826.2C777.9,826.2 781.6,828.6 785.3,831.7C787.8,833.8 790.3,840.7 792.8,848.4C795.2,856.1 797.7,876.0 800.2,885.5C803.0,896.3 805.8,911.5 808.5,911.5C810.7,911.5 812.9,905.0 815.0,900.4C817.8,894.4 820.6,876.3 823.4,876.3C825.5,876.3 827.7,881.7 829.9,883.7C832.3,885.9 834.8,889.2 837.3,889.2C840.4,889.2 843.5,885.5 846.6,885.5C849.0,885.5 851.5,892.0 854.0,892.9C856.5,893.9 858.9,894.8 861.4,894.8C865.1,894.8 868.8,892.5 872.5,889.2C875.6,886.6 878.7,870.9 881.8,863.3C884.9,855.6 888.0,848.9 891.1,842.9C895.4,834.5 899.8,827.5 904.1,820.6C907.8,814.7 911.5,810.0 915.2,803.9C918.3,798.8 921.4,790.2 924.5,787.2C928.2,783.5 931.9,779.8 935.6,779.8C941.2,779.8 946.8,782.6 952.3,782.6C956.6,782.6 961.0,780.9 965.3,778.8C968.4,777.4 971.5,771.1 974.6,768.6C977.1,766.7 979.5,766.0 982.0,764.0C987.0,760.0 991.9,748.5 996.8,744.5C999.9,742.1 1003.0,739.7 1006.1,739.0C1010.5,737.9 1014.8,737.1 1019.1,737.1C1034.0,737.1 1048.8,737.3 1063.6,738.0C1068.6,738.3 1073.5,744.5 1078.5,744.5C1082.3,744.5 1086.2,742.3 1090.0,742.3C1096.5,742.3 1103.0,742.3 1109.5,742.3C1116.9,742.3 1124.3,737.6 1131.7,737.6C1135.5,737.6 1139.2,738.2 1142.9,739.0C1149.4,740.3 1155.9,752.9 1162.4,752.9C1168.8,752.9 1175.3,744.5 1181.8,744.5C1186.0,744.5 1190.2,750.1 1194.4,750.1C1197.6,750.1 1200.9,743.1 1204.1,741.7C1212.4,738.3 1220.8,735.6 1229.1,735.6C1234.7,735.6 1240.3,736.1 1245.8,736.7C1250.5,737.3 1255.1,744.0 1259.8,744.0C1264.4,744.0 1269.0,738.4 1273.7,738.4C1283.9,738.4 1294.1,740.3 1304.3,741.2C1311.7,741.8 1319.1,742.1 1326.5,743.1C1330.3,743.6 1334.0,745.9 1337.7,745.9C1343.2,745.9 1348.8,741.2 1354.4,740.4C1363.7,738.9 1372.9,737.6 1382.2,737.6C1396.1,737.6 1410.0,737.6 1424.0,737.6C1433.2,737.6 1442.5,739.2 1451.8,741.7C1455.5,742.8 1459.2,746.4 1462.9,750.1C1465.2,752.4 1467.6,759.8 1469.9,759.8C1473.1,759.8 1476.4,751.7 1479.6,748.7C1483.3,745.3 1487.0,740.4 1490.7,740.4C1490.8,740.4 1490.9,740.5 1491.0,740.5C1491.8,740.5 1492.6,739.8 1493.5,739.6C1494.4,739.4 1495.3,739.2 1496.2,739.2C1496.7,739.2 1497.3,740.7 1497.8,740.7C1498.5,740.7 1499.2,740.4 1499.9,740.2C1500.7,740.0 1501.5,739.0 1502.3,739.0C1502.9,739.0 1503.4,739.1 1504.0,739.1C1504.6,739.1 1505.2,739.1 1505.8,739.0C1506.3,739.0 1506.8,738.7 1507.3,738.7C1507.9,738.7 1508.6,739.7 1509.2,739.7C1509.7,739.7 1510.2,739.6 1510.7,739.5C1511.5,739.4 1512.4,738.5 1513.3,738.5C1513.8,738.5 1514.3,739.5 1514.8,739.5C1515.4,739.5 1516.0,739.4 1516.6,739.2C1517.1,739.1 1517.7,738.5 1518.2,738.5C1518.7,738.5 1519.1,739.7 1519.6,739.7C1520.5,739.7 1521.5,738.2 1522.4,738.2C1523.3,738.1 1524.1,738.1 1525.0,738.1C1525.8,738.1 1526.5,738.5 1527.3,738.5C1528.0,738.5 1528.7,737.9 1529.5,737.8C1530.3,737.8 1531.1,737.8 1532.0,737.8C1532.9,737.8 1533.8,739.4 1534.7,739.4C1535.5,739.4 1536.3,737.8 1537.1,737.8C1537.6,737.8 1538.2,739.4 1538.7,739.4C1539.4,739.4 1540.1,737.9 1540.7,737.9C1541.5,737.9 1542.2,738.3 1543.0,738.4C1543.6,738.6 1544.3,738.7 1545.0,738.7C1545.8,738.7 1546.6,737.8 1547.4,737.8C1548.2,737.8 1548.9,739.3 1549.7,739.3C1550.3,739.3 1550.8,738.3 1551.3,738.3C1551.9,738.3 1552.4,738.3 1552.9,738.4C1553.8,738.5 1554.6,738.8 1555.5,738.9C1556.2,739.1 1556.8,739.3 1557.5,739.3C1558.1,739.3 1558.8,738.5 1559.5,738.2C1560.0,738.0 1560.6,737.7 1561.1,737.7C1561.7,737.7 1562.3,738.1 1562.9,738.4C1563.5,738.7 1564.1,739.5 1564.7,739.5C1565.2,739.5 1565.8,738.6 1566.3,738.6C1567.2,738.6 1568.1,740.7 1569.0,741.3C1569.7,741.9 1570.5,742.5 1571.2,742.5C1572.0,742.5 1572.8,742.4 1573.5,742.3C1573.9,742.2 1574.4,741.8 1574.8,741.7C1575.3,741.7 1575.9,741.7 1576.4,741.7C1577.0,741.7 1577.6,742.9 1578.2,742.9C1578.8,742.9 1579.4,742.0 1580.0,741.9C1580.4,741.7 1580.8,741.6 1581.3,741.6C1582.0,741.6 1582.6,741.9 1583.3,742.0C1583.7,742.0 1584.2,742.1 1584.7,742.2C1585.1,742.2 1585.5,742.2 1585.9,742.2C1586.7,742.3 1587.4,742.6 1588.2,742.7C1588.7,742.9 1589.2,743.1 1589.7,743.1C1590.3,743.1 1590.9,742.6 1591.5,742.6C1592.4,742.6 1593.3,745.3 1594.2,745.3C1594.6,745.3 1595.1,744.7 1595.5,744.7C1596.2,744.7 1597.0,747.4 1597.7,748.3C1598.4,749.3 1599.2,749.8 1600.0,750.6C1600.8,751.4 1601.6,752.1 1602.4,753.1C1602.8,753.6 1603.2,754.3 1603.6,754.9C1608.7,761.9 1613.7,767.4 1618.8,775.1C1622.5,780.8 1626.2,790.2 1629.9,794.6C1632.7,798.0 1635.5,802.4 1638.2,802.4C1641.0,802.4 1643.8,801.6 1646.6,800.2C1647.7,799.6 1648.9,796.5 1650.0,794.6C1654.3,787.4 1658.7,772.4 1663.0,772.4C1665.5,772.4 1667.9,790.9 1670.4,790.9C1672.9,790.9 1675.4,790.2 1677.8,789.1C1680.9,787.6 1684.0,753.4 1687.1,750.1C1689.0,748.1 1690.8,746.4 1692.7,746.4C1694.5,746.4 1696.4,750.1 1698.2,750.1C1701.9,750.1 1705.7,737.1 1709.4,737.1C1714.3,737.1 1719.3,739.3 1724.2,742.7C1727.3,744.8 1730.4,760.7 1733.5,764.9C1735.3,767.5 1737.2,767.6 1739.1,770.5C1741.5,774.4 1744.0,790.6 1746.5,803.9C1748.0,812.2 1749.6,832.7 1751.1,833.6C1753.3,834.8 1755.4,834.3 1757.6,835.4C1759.5,836.4 1761.3,851.0 1763.2,857.7C1765.0,864.4 1766.9,876.3 1768.7,876.3C1771.2,876.3 1773.7,856.7 1776.2,855.8C1779.9,854.6 1783.6,854.0 1787.3,854.0C1789.8,854.0 1792.2,857.7 1794.7,857.7C1797.2,857.7 1799.7,844.7 1802.1,844.7C1805.2,844.7 1808.3,867.0 1811.4,867.0C1813.3,867.0 1815.1,864.6 1817.0,861.4C1819.1,857.6 1821.3,813.4 1823.5,809.5C1825.9,805.0 1828.4,802.0 1830.9,802.0C1834.9,802.0 1838.9,813.2 1842.9,813.2C1846.0,813.2 1849.1,807.7 1852.2,803.9C1855.9,799.3 1859.6,785.3 1863.4,785.3C1866.5,785.3 1869.5,792.8 1872.6,798.3C1875.4,803.3 1878.2,818.7 1881.0,818.7C1882.5,818.7 1884.1,790.3 1885.6,787.2C1890.0,778.6 1894.3,774.2 1898.6,774.2C1902.3,774.2 1906.0,780.6 1909.7,785.3C1911.6,787.7 1913.5,790.3 1915.3,794.6C1917.8,800.3 1920.3,824.3 1922.7,824.3C1925.8,824.3 1928.9,811.3 1932.0,811.3C1934.5,811.3 1937.0,817.9 1939.4,818.7C1942.5,819.8 1945.6,819.4 1948.7,820.6C1951.2,821.5 1953.6,832.2 1956.1,839.1C1959.2,847.8 1962.3,866.1 1965.4,868.8C1969.1,872.1 1972.8,872.1 1976.5,874.4C1979.6,876.3 1982.7,877.9 1985.8,881.8C1988.9,885.7 1992.0,909.6 1995.1,909.6C1998.2,909.6 2001.3,901.5 2004.4,896.7C2006.5,893.3 2008.7,885.5 2010.9,885.5C2013.0,885.5 2015.2,898.0 2017.3,904.1C2018.9,908.5 2020.4,917.1 2022.0,917.1C2024.1,917.1 2026.3,906.3 2028.5,904.1C2029.0,903.6 2029.5,903.6 2030.0,902.9C2031.6,900.9 2033.2,843.8 2034.9,829.9C2036.5,816.0 2038.1,800.6 2039.7,800.6C2042.4,800.6 2045.2,800.6 2047.9,800.6C2048.9,800.6 2050.0,787.7 2051.1,781.2C2053.3,768.2 2055.4,742.2 2057.6,742.2C2059.2,742.2 2060.8,746.8 2062.5,751.9C2064.1,757.1 2065.7,779.9 2067.3,789.3C2069.0,798.7 2070.6,812.0 2072.2,812.0C2073.8,812.0 2075.5,802.8 2077.1,797.4C2079.2,790.2 2081.4,778.5 2083.6,773.1C2086.8,764.9 2090.1,755.2 2093.3,755.2C2095.5,755.2 2097.6,761.2 2099.8,764.9C2102.0,768.6 2104.1,777.9 2106.3,777.9C2109.0,777.9 2111.7,758.4 2114.4,758.4C2116.0,758.4 2117.7,765.3 2119.3,773.1C2120.9,780.8 2122.5,808.6 2124.2,829.9C2125.5,847.6 2126.9,889.9 2128.2,889.9C2129.6,889.9 2130.9,875.2 2132.3,862.3C2133.9,846.9 2135.5,794.9 2137.1,781.2C2139.3,762.8 2141.5,752.6 2143.6,745.5C2144.7,741.9 2145.8,737.3 2146.9,737.3C2149.0,737.3 2151.2,747.1 2153.4,753.6C2154.5,756.8 2155.5,764.9 2156.6,764.9C2158.8,764.9 2161.0,756.8 2163.1,756.8C2165.3,756.8 2167.4,762.6 2169.6,768.2C2171.8,773.8 2173.9,797.8 2176.1,800.6C2178.3,803.5 2180.4,803.2 2182.6,805.5C2185.3,808.4 2188.0,815.0 2190.7,821.8C2192.9,827.2 2195.0,835.5 2197.2,842.9C2199.9,852.1 2202.6,872.1 2205.3,872.1C2206.9,872.1 2208.6,866.9 2210.2,862.3C2212.4,856.3 2214.5,833.6 2216.7,829.9C2219.4,825.2 2222.1,821.8 2224.8,821.8C2227.5,821.8 2230.2,822.7 2232.9,823.4C2236.7,824.4 2240.5,826.2 2244.3,828.2C2247.3,829.9 2250.2,834.7 2253.2,834.7C2255.6,834.7 2258.1,830.2 2260.5,829.9C2269.2,828.7 2277.8,828.2 2286.5,828.2C2288.7,828.2 2290.8,834.7 2293.0,834.7C2297.3,834.7 2301.6,832.2 2306.0,829.9C2310.3,827.5 2314.6,816.9 2319.0,816.9C2321.1,816.9 2323.3,818.5 2325.5,818.5C2327.6,818.5 2329.8,805.5 2331.9,805.5C2335.2,805.5 2338.4,813.6 2341.7,813.6C2343.9,813.6 2346.0,804.5 2348.2,800.6C2350.9,795.8 2353.6,791.0 2356.3,787.7C2358.5,785.0 2360.6,784.7 2362.8,781.2C2363.6,779.8 2364.5,775.8 2365.3,773.1" fill="none" stroke="#35ad69" stroke-width="7.0" stroke-linejoin="round" stroke-linecap="round"/>
<path d="M165.8,1062.9C173.1,1063.3 180.5,1063.7 187.8,1064.0C200.2,1064.7 212.6,1065.8 225.0,1065.8C225.9,1065.8 226.7,1064.9 227.6,1064.9C228.0,1064.9 228.4,1065.6 228.9,1065.7C229.6,1065.7 230.2,1065.7 230.9,1065.7C231.5,1065.8 232.1,1066.3 232.7,1066.3C233.3,1066.3 233.8,1065.5 234.4,1065.5C235.3,1065.5 236.2,1066.3 237.1,1066.3C237.5,1066.3 237.9,1065.7 238.4,1065.6C239.3,1065.3 240.2,1065.3 241.1,1065.1C242.0,1064.9 242.9,1064.5 243.8,1064.5C244.2,1064.5 244.7,1065.0 245.1,1065.0C245.8,1065.0 246.5,1064.4 247.3,1064.3C247.9,1064.2 248.6,1064.2 249.3,1064.2C249.9,1064.2 250.5,1065.3 251.1,1065.3C251.7,1065.3 252.3,1065.3 252.9,1065.2C253.4,1065.1 253.9,1064.1 254.4,1064.1C254.9,1064.1 255.3,1064.8 255.8,1064.8C256.7,1064.8 257.5,1063.5 258.4,1063.5C259.2,1063.5 260.1,1064.4 260.9,1064.4C261.3,1064.4 261.8,1064.2 262.3,1064.1C263.2,1064.0 264.0,1063.9 264.9,1063.8C265.4,1063.8 266.0,1063.7 266.5,1063.7C266.9,1063.7 267.4,1063.7 267.9,1063.7C268.5,1063.7 269.1,1064.3 269.7,1064.3C270.2,1064.3 270.7,1064.3 271.2,1064.2C271.8,1064.2 272.4,1064.1 273.0,1064.0C273.8,1063.9 274.6,1063.4 275.4,1063.4C276.2,1063.4 277.0,1063.4 277.8,1063.4C278.5,1063.4 279.3,1064.0 280.1,1064.0C280.7,1064.0 281.4,1062.7 282.0,1062.7C282.8,1062.7 283.6,1063.4 284.4,1063.4C285.3,1063.4 286.2,1063.1 287.0,1063.1C287.5,1063.1 287.9,1064.2 288.3,1064.2C288.9,1064.2 289.5,1063.7 290.1,1063.6C290.7,1063.4 291.3,1063.3 291.8,1063.2C292.7,1063.0 293.5,1062.7 294.4,1062.7C294.9,1062.7 295.4,1062.7 296.0,1062.7C296.7,1062.7 297.5,1063.1 298.3,1063.2C299.0,1063.3 299.8,1063.3 300.5,1063.4C301.3,1063.5 302.2,1063.6 303.0,1063.6C304.0,1063.6 304.9,1062.9 305.8,1062.9C306.4,1062.9 307.0,1063.9 307.6,1063.9C308.0,1063.9 308.5,1063.2 308.9,1063.2C309.5,1063.2 310.0,1064.2 310.6,1064.3C311.4,1064.5 312.3,1064.7 313.1,1064.7C314.0,1064.7 314.8,1064.5 315.7,1064.5C316.5,1064.5 317.3,1064.9 318.1,1065.1C318.9,1065.3 319.7,1065.9 320.5,1065.9C320.9,1065.9 321.4,1064.7 321.9,1064.7C322.7,1064.7 323.5,1065.8 324.2,1065.8C324.6,1065.8 325.1,1065.4 325.5,1065.4C326.2,1065.4 327.0,1066.7 327.7,1066.9C328.1,1067.0 328.6,1067.0 329.0,1067.1C333.0,1068.0 336.9,1071.4 340.9,1074.6C345.5,1078.4 350.2,1083.8 354.8,1091.3C357.6,1095.8 360.4,1104.4 363.2,1110.8C366.9,1119.3 370.6,1127.3 374.3,1135.8C377.1,1142.2 379.9,1150.4 382.6,1155.3C387.3,1163.6 391.9,1170.3 396.5,1174.8C405.8,1183.8 415.1,1189.6 424.4,1194.3C433.7,1199.0 442.9,1203.2 452.2,1205.4C466.1,1208.8 480.0,1211.7 494.0,1212.4C503.2,1212.8 512.5,1213.2 521.8,1213.2C531.1,1213.2 540.3,1211.1 549.6,1209.6C558.9,1208.1 568.2,1206.3 577.4,1204.0C586.7,1201.8 596.0,1198.1 605.3,1195.7C619.2,1192.0 633.1,1190.5 647.0,1185.9C656.3,1182.9 665.6,1177.3 674.8,1172.0C684.1,1166.8 693.4,1160.2 702.7,1153.9C711.9,1147.7 721.2,1136.6 730.5,1134.5C733.7,1133.7 736.8,1133.7 740.0,1133.0C749.3,1130.8 758.6,1119.1 767.8,1112.1C777.1,1105.1 786.4,1092.7 795.7,1091.2C800.3,1090.5 804.9,1089.8 809.6,1089.8C812.4,1089.8 815.1,1096.1 817.9,1099.6C820.7,1103.0 823.5,1110.7 826.3,1110.7C830.0,1110.7 833.7,1102.4 837.4,1101.0C841.1,1099.5 844.8,1099.7 848.5,1098.2C853.2,1096.3 857.8,1083.1 862.4,1080.1C868.0,1076.5 873.6,1074.9 879.1,1073.1C884.7,1071.4 890.3,1070.4 895.8,1069.0C903.3,1067.1 910.7,1063.4 918.1,1063.4C951.5,1063.4 984.9,1063.4 1018.3,1063.4C1070.2,1063.4 1122.2,1062.8 1174.1,1062.8C1179.7,1062.8 1185.3,1066.2 1190.8,1066.2C1194.5,1066.2 1198.3,1063.4 1202.0,1063.4C1216.8,1063.4 1231.7,1063.6 1246.5,1064.0C1258.6,1064.2 1270.6,1067.4 1282.7,1069.0C1295.1,1070.6 1307.6,1071.7 1320.0,1073.4C1329.3,1074.6 1338.6,1077.2 1347.8,1077.6C1361.7,1078.1 1375.7,1078.4 1389.6,1078.4C1398.8,1078.4 1408.1,1075.2 1417.4,1073.4C1426.7,1071.6 1436.0,1069.1 1445.2,1067.8C1459.1,1065.9 1473.1,1063.7 1487.0,1063.7C1510.2,1063.7 1533.4,1063.7 1556.5,1063.7C1565.8,1063.7 1575.1,1066.9 1584.4,1070.6C1589.0,1072.5 1593.7,1076.6 1598.3,1081.7C1602.9,1086.9 1607.6,1097.6 1612.2,1106.8C1616.8,1116.0 1621.5,1128.8 1626.1,1137.4C1630.8,1146.0 1635.4,1155.6 1640.0,1159.7C1643.7,1162.9 1647.5,1166.6 1651.2,1166.6C1654.9,1166.6 1658.6,1163.3 1662.3,1159.7C1666.9,1155.2 1671.6,1136.4 1676.2,1126.3C1680.9,1116.2 1685.5,1104.1 1690.1,1098.4C1696.6,1090.5 1703.1,1086.9 1709.6,1081.7C1715.2,1077.3 1720.7,1071.1 1726.3,1069.2C1731.9,1067.3 1737.4,1065.6 1743.0,1065.6C1748.6,1065.6 1754.1,1069.0 1759.7,1072.0C1765.3,1075.0 1770.8,1084.8 1776.4,1087.3C1781.0,1089.4 1785.7,1091.5 1790.3,1091.5C1795.0,1091.5 1799.6,1079.7 1804.2,1077.6C1810.7,1074.6 1817.2,1072.0 1823.7,1072.0C1830.2,1072.0 1836.7,1079.0 1843.2,1079.0C1850.6,1079.0 1858.0,1077.1 1865.5,1075.6C1870.3,1074.7 1875.2,1072.5 1880.0,1071.7C1887.7,1070.6 1895.5,1070.1 1903.2,1069.4C1914.8,1068.5 1926.4,1068.4 1938.0,1067.1C1942.6,1066.6 1947.3,1063.6 1951.9,1063.6C1954.2,1063.6 1956.5,1068.3 1958.8,1071.7C1960.4,1074.1 1961.9,1079.0 1963.5,1081.0C1967.4,1086.1 1971.2,1089.6 1975.1,1091.5C1977.4,1092.5 1979.7,1092.8 1982.0,1093.8C1985.9,1095.4 1989.8,1100.7 1993.6,1100.7C1997.5,1100.7 2001.4,1094.0 2005.2,1091.5C2011.4,1087.3 2017.6,1084.8 2023.8,1081.0C2030.0,1077.3 2036.2,1070.6 2042.3,1069.0C2048.5,1067.4 2054.7,1066.5 2060.9,1065.9C2070.2,1065.1 2079.4,1064.3 2088.7,1064.3C2093.4,1064.3 2098.0,1068.3 2102.6,1068.3C2107.3,1068.3 2111.9,1065.9 2116.5,1065.9C2122.0,1065.9 2127.4,1067.2 2132.8,1069.4C2135.9,1070.7 2139.0,1080.9 2142.1,1083.3C2147.5,1087.6 2152.9,1089.6 2158.3,1091.5C2164.5,1093.5 2170.7,1094.3 2176.8,1096.1C2186.1,1098.8 2195.4,1104.1 2204.7,1106.5C2212.4,1108.5 2220.1,1111.0 2227.9,1111.2C2239.5,1111.5 2251.1,1111.6 2262.7,1111.6C2274.2,1111.6 2285.8,1108.7 2297.4,1106.5C2305.2,1105.1 2312.9,1102.2 2320.6,1100.7C2328.4,1099.3 2336.1,1098.6 2343.8,1097.3C2351.0,1096.0 2358.2,1094.2 2365.3,1092.6" fill="none" stroke="#1a6bdd" stroke-width="7.0" stroke-linejoin="round" stroke-linecap="round"/>
<path d="M165.8,1444.6C177.2,1445.0 188.6,1445.8 200.0,1445.8C200.7,1445.8 201.4,1445.4 202.0,1445.4C202.9,1445.4 203.7,1445.9 204.5,1445.9C204.9,1445.9 205.4,1445.2 205.8,1445.2C206.2,1445.2 206.6,1446.4 207.0,1446.4C207.5,1446.4 207.9,1446.2 208.4,1446.1C209.1,1445.9 209.8,1445.0 210.5,1445.0C211.3,1445.0 212.1,1445.0 212.8,1445.1C213.7,1445.1 214.5,1445.1 215.4,1445.1C216.3,1445.1 217.1,1445.2 218.0,1445.2C218.5,1445.2 219.0,1444.9 219.5,1444.9C220.1,1444.9 220.6,1446.4 221.2,1446.4C221.8,1446.4 222.4,1445.8 223.0,1445.8C223.8,1445.8 224.6,1446.6 225.3,1446.6C226.0,1446.6 226.6,1446.5 227.3,1446.5C228.0,1446.4 228.7,1445.9 229.5,1445.9C230.0,1445.9 230.6,1446.7 231.2,1446.7C231.7,1446.7 232.3,1446.0 232.9,1445.9C233.8,1445.8 234.7,1445.7 235.7,1445.7C236.1,1445.7 236.5,1446.4 236.9,1446.4C237.8,1446.4 238.6,1445.2 239.4,1445.2C239.9,1445.2 240.3,1446.8 240.8,1446.8C241.5,1446.8 242.3,1446.5 243.0,1446.5C243.8,1446.5 244.6,1446.6 245.3,1446.6C245.8,1446.6 246.2,1445.3 246.7,1445.3C247.6,1445.3 248.5,1445.3 249.5,1445.4C250.4,1445.5 251.2,1446.2 252.1,1446.3C253.0,1446.5 253.9,1446.6 254.7,1446.6C255.3,1446.6 255.8,1445.3 256.4,1445.3C257.1,1445.3 257.9,1446.3 258.6,1446.3C259.3,1446.3 260.0,1445.6 260.7,1445.4C261.6,1445.3 262.4,1445.1 263.3,1445.1C264.0,1445.1 264.7,1446.2 265.4,1446.2C266.2,1446.2 267.0,1445.8 267.7,1445.6C268.2,1445.4 268.7,1445.0 269.2,1445.0C269.8,1445.0 270.4,1445.5 271.0,1445.7C271.5,1445.9 272.0,1446.1 272.4,1446.1C272.9,1446.1 273.3,1445.7 273.8,1445.7C274.2,1445.7 274.6,1446.2 275.1,1446.2C275.7,1446.2 276.3,1445.2 276.9,1445.2C277.8,1445.2 278.7,1445.8 279.5,1445.8C280.1,1445.8 280.7,1444.6 281.3,1444.6C281.8,1444.6 282.3,1445.8 282.8,1445.8C283.2,1445.8 283.6,1445.7 284.0,1445.7C284.9,1445.7 285.7,1444.6 286.6,1444.6C287.2,1444.6 287.7,1445.1 288.2,1445.1C289.0,1445.1 289.8,1444.6 290.6,1444.6C291.0,1444.6 291.4,1445.4 291.8,1445.4C292.7,1445.4 293.6,1445.3 294.5,1445.1C295.1,1445.0 295.7,1444.3 296.3,1444.3C297.2,1444.3 298.1,1444.7 299.0,1444.7C299.4,1444.7 299.9,1443.8 300.4,1443.8C300.9,1443.8 301.5,1443.9 302.0,1443.9C302.9,1444.0 303.9,1445.3 304.8,1445.3C305.3,1445.3 305.9,1445.1 306.5,1445.0C307.4,1444.8 308.3,1444.7 309.3,1444.7C309.7,1444.7 310.2,1444.7 310.7,1444.7C311.2,1444.7 311.7,1445.1 312.2,1445.2C312.9,1445.2 313.6,1445.2 314.4,1445.2C315.3,1445.2 316.1,1444.8 317.0,1444.8C317.6,1444.8 318.2,1445.0 318.7,1445.1C319.5,1445.2 320.3,1445.4 321.0,1445.4C321.7,1445.4 322.4,1444.3 323.2,1444.3C323.7,1444.2 324.3,1444.2 324.9,1444.2C325.6,1444.2 326.3,1444.2 327.0,1444.2C327.7,1444.2 328.3,1445.5 328.9,1445.5C329.6,1445.5 330.3,1445.2 331.0,1445.2C331.5,1445.2 332.0,1445.3 332.6,1445.3C333.1,1445.3 333.6,1445.2 334.1,1445.2C334.9,1445.2 335.6,1445.6 336.3,1445.6C336.9,1445.6 337.5,1445.4 338.1,1445.2C338.5,1445.1 338.9,1444.4 339.4,1444.4C340.3,1444.4 341.2,1444.8 342.2,1444.8C342.8,1444.8 343.5,1444.7 344.2,1444.7C344.8,1444.7 345.3,1445.3 345.9,1445.3C346.5,1445.3 347.2,1445.0 347.8,1445.0C348.2,1445.0 348.7,1445.1 349.1,1445.1C349.8,1445.1 350.4,1444.6 351.1,1444.6C351.7,1444.6 352.4,1444.6 353.0,1444.7C353.8,1444.8 354.5,1445.8 355.3,1445.8C356.2,1445.8 357.1,1445.4 358.0,1445.4C358.8,1445.4 359.5,1446.3 360.3,1446.3C360.9,1446.3 361.5,1445.7 362.1,1445.7C363.0,1445.7 363.9,1445.7 364.7,1445.9C365.1,1446.0 365.6,1446.9 366.0,1446.9C366.6,1446.9 367.2,1446.4 367.8,1446.4C368.2,1446.4 368.7,1446.9 369.2,1447.3C369.7,1447.7 370.2,1448.8 370.7,1449.0C371.3,1449.3 372.0,1449.3 372.7,1449.6C373.2,1449.8 373.7,1450.9 374.2,1450.9C374.9,1450.9 375.5,1450.4 376.2,1450.4C376.9,1450.4 377.6,1451.3 378.3,1451.7C378.7,1451.9 379.1,1452.1 379.6,1452.4C380.1,1452.9 380.6,1454.2 381.2,1454.7C381.8,1455.2 382.4,1455.9 383.0,1455.9C383.6,1455.9 384.2,1455.6 384.9,1455.6C385.6,1455.6 386.3,1456.2 387.1,1456.7C387.7,1457.2 388.4,1458.5 389.1,1459.2C389.5,1459.6 389.9,1460.0 390.3,1460.3C390.7,1460.5 391.2,1460.9 391.6,1460.9C392.0,1460.9 392.5,1460.9 392.9,1460.9C393.5,1460.9 394.2,1461.6 394.8,1461.9C395.6,1462.3 396.3,1462.6 397.1,1463.0C397.7,1463.4 398.4,1463.8 399.1,1464.2C408.4,1469.5 417.8,1473.5 427.2,1478.7C432.1,1481.5 437.1,1485.4 442.0,1487.6C451.9,1492.2 461.8,1495.7 471.7,1498.0C486.5,1501.5 501.4,1504.4 516.2,1505.5C526.1,1506.2 536.0,1506.0 545.9,1506.9C551.8,1507.5 557.8,1514.4 563.7,1514.4C569.6,1514.4 575.6,1509.1 581.5,1506.9C589.4,1504.1 597.4,1501.5 605.3,1499.5C620.1,1495.8 635.0,1494.0 649.8,1490.6C664.6,1487.2 679.5,1482.0 694.3,1478.7C709.2,1475.5 724.0,1470.4 738.8,1470.4C742.8,1470.4 746.8,1471.3 750.7,1471.3C756.7,1471.3 762.6,1462.4 768.5,1462.4C772.4,1462.4 776.2,1462.6 780.0,1462.6C784.6,1462.6 789.3,1458.4 793.9,1458.4C799.5,1458.4 805.0,1460.9 810.6,1463.5C814.3,1465.1 818.0,1471.7 821.7,1472.4C831.0,1473.9 840.3,1474.6 849.6,1474.6C856.1,1474.6 862.6,1468.1 869.1,1466.8C874.6,1465.7 880.2,1465.6 885.8,1464.6C896.9,1462.5 908.0,1453.9 919.1,1452.9C937.7,1451.1 956.3,1451.3 974.8,1450.1C988.7,1449.2 1002.6,1445.9 1016.5,1445.9C1030.5,1445.9 1044.4,1445.9 1058.3,1445.9C1070.4,1445.9 1082.4,1447.9 1094.5,1447.9C1102.8,1447.9 1111.2,1443.1 1119.5,1443.1C1134.4,1443.1 1149.2,1443.1 1164.0,1443.1C1167.8,1443.1 1171.5,1445.3 1175.2,1448.7C1176.6,1450.0 1178.0,1458.4 1179.4,1458.4C1181.2,1458.4 1183.1,1447.3 1184.9,1447.3C1188.6,1447.3 1192.3,1452.9 1196.0,1452.9C1198.4,1452.9 1200.7,1450.1 1203.0,1450.1C1205.8,1450.1 1208.6,1452.9 1211.4,1452.9C1217.8,1452.9 1224.3,1446.8 1230.8,1445.9C1242.9,1444.3 1255.0,1443.1 1267.0,1443.1C1279.1,1443.1 1291.1,1443.5 1303.2,1444.0C1309.7,1444.2 1316.2,1446.8 1322.7,1446.8C1335.1,1446.8 1347.6,1444.7 1360.0,1444.5C1383.2,1444.2 1406.4,1444.1 1429.6,1444.1C1437.3,1444.1 1445.0,1446.4 1452.8,1446.4C1468.5,1446.4 1484.3,1444.2 1500.0,1444.2C1500.8,1444.2 1501.5,1444.3 1502.3,1444.4C1503.0,1444.5 1503.8,1444.7 1504.6,1444.7C1505.4,1444.7 1506.3,1444.1 1507.2,1444.1C1508.0,1444.1 1508.9,1444.7 1509.7,1444.7C1510.3,1444.7 1510.9,1443.9 1511.5,1443.9C1512.1,1443.9 1512.7,1444.4 1513.2,1444.4C1514.0,1444.4 1514.8,1444.4 1515.6,1444.3C1516.5,1444.2 1517.3,1443.6 1518.1,1443.6C1518.5,1443.6 1519.0,1443.9 1519.4,1443.9C1519.8,1443.9 1520.2,1443.9 1520.6,1443.9C1521.0,1443.9 1521.5,1443.7 1521.9,1443.7C1522.5,1443.7 1523.1,1444.7 1523.7,1444.7C1524.4,1444.7 1525.1,1444.2 1525.9,1444.2C1526.4,1444.2 1527.0,1444.2 1527.5,1444.2C1528.4,1444.2 1529.2,1443.5 1530.1,1443.5C1530.8,1443.5 1531.5,1444.7 1532.2,1444.7C1532.7,1444.7 1533.1,1444.2 1533.6,1444.1C1534.1,1444.0 1534.6,1443.9 1535.1,1443.9C1535.7,1443.9 1536.2,1444.6 1536.8,1444.7C1537.3,1444.7 1537.8,1444.8 1538.4,1444.8C1539.2,1444.8 1540.1,1443.3 1541.0,1443.3C1541.6,1443.3 1542.2,1444.8 1542.8,1445.1C1543.7,1445.7 1544.5,1446.1 1545.4,1446.2C1546.3,1446.3 1547.1,1446.2 1548.0,1446.3C1548.7,1446.4 1549.4,1448.1 1550.1,1448.1C1551.0,1448.1 1551.8,1447.7 1552.6,1447.5C1553.2,1447.3 1553.8,1446.8 1554.4,1446.6C1554.9,1446.5 1555.4,1446.5 1555.8,1446.4C1556.3,1446.2 1556.8,1445.0 1557.3,1444.7C1558.0,1444.2 1558.7,1444.0 1559.3,1443.8C1560.9,1443.4 1562.5,1442.9 1564.1,1442.9C1568.7,1442.9 1573.4,1443.4 1578.0,1444.1C1582.6,1444.7 1587.3,1448.4 1591.9,1449.9C1599.6,1452.3 1607.4,1453.1 1615.1,1455.7C1621.3,1457.7 1627.5,1463.0 1633.7,1464.5C1636.7,1465.2 1639.8,1466.1 1642.9,1466.1C1649.1,1466.1 1655.3,1457.5 1661.5,1457.5C1664.6,1457.5 1667.7,1466.1 1670.8,1466.1C1673.1,1466.1 1675.4,1466.1 1677.7,1466.1C1681.6,1466.1 1685.4,1451.8 1689.3,1449.9C1693.2,1448.0 1697.0,1447.6 1700.9,1446.4C1703.2,1445.6 1705.5,1444.1 1707.9,1444.1C1710.2,1444.1 1712.5,1447.1 1714.8,1447.5C1717.9,1448.2 1721.0,1448.0 1724.1,1448.7C1727.2,1449.4 1730.3,1461.5 1733.4,1461.5C1734.9,1461.5 1736.5,1456.8 1738.0,1456.8C1741.9,1456.8 1745.7,1461.0 1749.6,1464.9C1752.3,1467.7 1755.0,1478.8 1757.7,1478.8C1759.7,1478.8 1761.6,1476.5 1763.5,1476.5C1765.5,1476.5 1767.4,1499.7 1769.3,1499.7C1771.3,1499.7 1773.2,1485.6 1775.1,1483.5C1778.2,1480.2 1781.3,1477.7 1784.4,1477.7C1787.5,1477.7 1790.6,1483.5 1793.7,1483.5C1796.8,1483.5 1799.9,1468.0 1802.9,1467.3C1806.0,1466.5 1809.1,1466.1 1812.2,1466.1C1816.1,1466.1 1820.0,1476.5 1823.8,1476.5C1826.9,1476.5 1830.0,1464.9 1833.1,1464.9C1835.4,1464.9 1837.7,1465.1 1840.0,1465.1C1846.7,1465.1 1853.4,1460.1 1860.0,1460.1C1863.4,1460.1 1866.7,1472.6 1870.1,1472.6C1874.2,1472.6 1878.4,1467.2 1882.6,1466.4C1889.3,1465.0 1895.9,1463.9 1902.6,1463.9C1906.0,1463.9 1909.3,1465.1 1912.6,1466.4C1917.6,1468.3 1922.7,1482.7 1927.7,1482.7C1930.2,1482.7 1932.7,1477.6 1935.2,1477.6C1937.7,1477.6 1940.2,1483.4 1942.7,1487.7C1945.2,1491.9 1947.7,1499.4 1950.2,1505.2C1952.7,1511.0 1955.2,1522.7 1957.7,1522.7C1960.2,1522.7 1962.7,1516.5 1965.2,1516.5C1968.6,1516.5 1971.9,1516.5 1975.3,1516.5C1978.2,1516.5 1981.1,1526.5 1984.0,1526.5C1987.8,1526.5 1991.5,1516.5 1995.3,1516.5C1998.6,1516.5 2002.0,1529.0 2005.3,1529.0C2008.6,1529.0 2012.0,1509.5 2015.3,1507.7C2019.5,1505.4 2023.7,1505.7 2027.8,1503.9C2032.0,1502.2 2036.2,1495.2 2040.4,1495.2C2043.7,1495.2 2047.1,1495.7 2050.4,1496.4C2053.3,1497.1 2056.2,1502.7 2059.2,1502.7C2062.1,1502.7 2065.0,1487.7 2067.9,1487.7C2070.8,1487.7 2073.8,1490.2 2076.7,1490.2C2079.6,1490.2 2082.5,1457.6 2085.5,1455.1C2088.0,1452.9 2090.5,1451.3 2093.0,1451.3C2100.5,1451.3 2108.0,1458.9 2115.5,1458.9C2122.2,1458.9 2128.9,1454.6 2135.5,1452.6C2141.4,1450.9 2147.2,1447.6 2153.1,1447.6C2155.2,1447.6 2157.3,1457.6 2159.3,1457.6C2161.4,1457.6 2163.5,1446.1 2165.6,1445.1C2168.9,1443.5 2172.3,1442.6 2175.6,1442.6C2179.0,1442.6 2182.3,1446.8 2185.6,1450.1C2189.0,1453.4 2192.3,1458.1 2195.7,1465.1C2198.2,1470.4 2200.7,1490.2 2203.2,1490.2C2205.7,1490.2 2208.2,1480.1 2210.7,1475.1C2214.9,1466.8 2219.0,1450.1 2223.2,1450.1C2229.1,1450.1 2234.9,1453.4 2240.7,1453.8C2249.1,1454.6 2257.4,1454.4 2265.8,1455.1C2274.1,1455.8 2282.5,1463.9 2290.8,1463.9C2300.9,1463.9 2310.9,1463.9 2320.9,1463.9C2322.1,1463.9 2323.4,1468.9 2324.6,1468.9C2326.7,1468.9 2328.8,1458.9 2330.9,1458.9C2336.8,1458.9 2342.6,1468.9 2348.4,1468.9C2350.9,1468.9 2353.5,1452.8 2356.0,1450.1C2359.1,1446.7 2362.2,1445.9 2365.3,1443.8" fill="none" stroke="#aa74dd" stroke-width="7.0" stroke-linejoin="round" stroke-linecap="round"/>
<line x1="1616" y1="351.8" x2="1678.6" y2="275.2" stroke="#1a1a1a" stroke-width="2"/>
<line x1="1744.7" y1="366.8" x2="1774.8" y2="324" stroke="#1a1a1a" stroke-width="2"/>
<line x1="1875.7" y1="376.1" x2="1872.2" y2="285.7" stroke="#1a1a1a" stroke-width="2"/>
<line x1="2114.4" y1="249.5" x2="2132.1" y2="347.8" stroke="#1a1a1a" stroke-width="2"/>
<line x1="1674.6" y1="511" x2="1674.6" y2="579.7" stroke="#1a1a1a" stroke-width="2"/>
<line x1="2050.2" y1="536.5" x2="2083.9" y2="620.2" stroke="#1a1a1a" stroke-width="2"/>
<line x1="1881.9" y1="816.9" x2="1901.4" y2="882.7" stroke="#1a1a1a" stroke-width="2"/>
<rect x="162.75" y="43.5" width="2205.6" height="1625.35" fill="none" stroke="#000" stroke-width="6.6"/>
<line x1="320.29" y1="1668.8" x2="320.29" y2="1652.8" stroke="#000" stroke-width="6.6"/>
<line x1="477.84" y1="1668.8" x2="477.84" y2="1636.7" stroke="#000" stroke-width="6.6"/>
<line x1="635.38" y1="1668.8" x2="635.38" y2="1652.8" stroke="#000" stroke-width="6.6"/>
<line x1="792.92" y1="1668.8" x2="792.92" y2="1636.7" stroke="#000" stroke-width="6.6"/>
<line x1="950.46" y1="1668.8" x2="950.46" y2="1652.8" stroke="#000" stroke-width="6.6"/>
<line x1="1108.01" y1="1668.8" x2="1108.01" y2="1636.7" stroke="#000" stroke-width="6.6"/>
<line x1="1265.55" y1="1668.8" x2="1265.55" y2="1652.8" stroke="#000" stroke-width="6.6"/>
<line x1="1423.09" y1="1668.8" x2="1423.09" y2="1636.7" stroke="#000" stroke-width="6.6"/>
<line x1="1580.64" y1="1668.8" x2="1580.64" y2="1652.8" stroke="#000" stroke-width="6.6"/>
<line x1="1738.18" y1="1668.8" x2="1738.18" y2="1636.7" stroke="#000" stroke-width="6.6"/>
<line x1="1895.72" y1="1668.8" x2="1895.72" y2="1652.8" stroke="#000" stroke-width="6.6"/>
<line x1="2053.26" y1="1668.8" x2="2053.26" y2="1636.7" stroke="#000" stroke-width="6.6"/>
<line x1="2210.81" y1="1668.8" x2="2210.81" y2="1652.8" stroke="#000" stroke-width="6.6"/>
<text transform="translate(169.32,156.68) scale(0.9431,1)" font-family='"Liberation Sans", Arial, sans-serif' font-weight="bold" font-size="72.46" fill="#000">DOPO</text>
<text transform="translate(175.32,458.62) scale(0.9978,1)" font-family='"Liberation Sans", Arial, sans-serif' font-weight="bold" font-size="68.08" fill="#000">VTES</text>
<text transform="translate(168.39,715.31) scale(0.9925,1)" font-family='"Liberation Sans", Arial, sans-serif' font-weight="bold" font-size="69.35" fill="#000">DOPO</text>
<text transform="translate(381.57,707.81) scale(1.1799,1)" font-family='"Liberation Sans", Arial, sans-serif' font-weight="bold" font-size="68.07" fill="#000">-</text>
<text transform="translate(417.42,715.31) scale(0.9879,1)" font-family='"Liberation Sans", Arial, sans-serif' font-weight="bold" font-size="69.35" fill="#000">VTES</text>
<text transform="translate(173.85,1035.20) scale(1.0232,1)" font-family='"Liberation Sans", Arial, sans-serif' font-weight="bold" font-size="69.33" fill="#000">PVA</text>
<text transform="translate(179.12,1418.50) scale(1.0228,1)" font-family='"Liberation Sans", Arial, sans-serif' font-weight="bold" font-size="69.77" fill="#000">PVA</text>
<text transform="translate(330.18,1420.91) scale(0.9685,1)" font-family='"Liberation Sans", Arial, sans-serif' font-weight="bold" font-size="64.43" fill="#000">/</text>
<text transform="translate(355.91,1424.48) scale(0.9511,1)" font-family='"Liberation Sans", Arial, sans-serif' font-weight="bold" font-size="72.03" fill="#000">DOPO</text>
<text transform="translate(567.83,1416.98) scale(1.1090,1)" font-family='"Liberation Sans", Arial, sans-serif' font-weight="bold" font-size="66.39" fill="#000">-</text>
<text transform="translate(602.82,1424.47) scale(0.9377,1)" font-family='"Liberation Sans", Arial, sans-serif' font-weight="bold" font-size="73.02" fill="#000">VTES</text>
<text transform="translate(1125.71,400.00) scale(0.9679,1)" font-family='"Liberation Sans", Arial, sans-serif' font-weight="bold" font-size="70.78" fill="#000">P-H</text>
<text transform="translate(1580.50,476.50) scale(1.0169,1)" font-family='"Liberation Sans", Arial, sans-serif' font-weight="bold" font-size="67.45" fill="#000">P-Ph</text>
<text transform="translate(1806.68,474.61) scale(0.9997,1)" font-family='"Liberation Sans", Arial, sans-serif' font-weight="bold" font-size="68.93" fill="#000">P=O</text>
<text transform="translate(2063.69,462.13) scale(1.0304,1)" font-family='"Liberation Sans", Arial, sans-serif' font-weight="bold" font-size="66.80" fill="#000">P-O-Ph</text>
<text transform="translate(800.30,686.20) scale(0.9700,1)" font-family='"Liberation Sans", Arial, sans-serif' font-weight="bold" font-size="70.48" fill="#000">C-H</text>
<text transform="translate(1605.51,689.82) scale(1.0005,1)" font-family='"Liberation Sans", Arial, sans-serif' font-weight="bold" font-size="68.08" fill="#000">C=C</text>
<text transform="translate(2003.34,730.61) scale(0.9784,1)" font-family='"Liberation Sans", Arial, sans-serif' font-weight="bold" font-size="69.25" fill="#000">Si-O</text>
<text transform="translate(508.41,985.31) scale(0.9805,1)" font-family='"Liberation Sans", Arial, sans-serif' font-weight="bold" font-size="69.35" fill="#000">O-H</text>
<text transform="translate(1744.02,998.40) scale(0.9510,1)" font-family='"Liberation Sans", Arial, sans-serif' font-weight="bold" font-size="70.34" fill="#000">P-C</text>
<text transform="translate(518.11,1283.61) scale(0.9805,1)" font-family='"Liberation Sans", Arial, sans-serif' font-weight="bold" font-size="69.35" fill="#000">O-H</text>
<text transform="translate(1883.62,1621.73) scale(1.0197,1)" font-family='"Liberation Sans", Arial, sans-serif' font-weight="bold" font-size="66.80" fill="#000">Si-O-C</text>
<text transform="translate(1117.51,331.77) scale(0.9501,1)" font-family='"Liberation Sans", Arial, sans-serif' font-weight="normal" font-size="62.99" fill="#000">2385</text>
<text transform="translate(1523.18,398.27) scale(1.0050,1)" font-family='"Liberation Sans", Arial, sans-serif' font-weight="normal" font-size="52.68" fill="#000">1593</text>
<text transform="translate(1666.93,412.17) scale(1.0191,1)" font-family='"Liberation Sans", Arial, sans-serif' font-weight="normal" font-size="52.54" fill="#000">1449</text>
<text transform="translate(1803.77,415.67) scale(1.0073,1)" font-family='"Liberation Sans", Arial, sans-serif' font-weight="normal" font-size="52.68" fill="#000">1289</text>
<text transform="translate(2076.28,389.99) scale(1.0567,1)" font-family='"Liberation Sans", Arial, sans-serif' font-weight="normal" font-size="50.71" fill="#000">913</text>
<text transform="translate(2188.06,378.08) scale(1.0413,1)" font-family='"Liberation Sans", Arial, sans-serif' font-weight="normal" font-size="51.55" fill="#000">758</text>
<text transform="translate(714.59,618.79) scale(0.9866,1)" font-family='"Liberation Sans", Arial, sans-serif' font-weight="normal" font-size="50.85" fill="#000">3061</text>
<text transform="translate(857.65,590.18) scale(1.0207,1)" font-family='"Liberation Sans", Arial, sans-serif' font-weight="normal" font-size="51.84" fill="#000">2976</text>
<text transform="translate(1620.99,633.38) scale(1.0098,1)" font-family='"Liberation Sans", Arial, sans-serif' font-weight="normal" font-size="52.26" fill="#000">1600</text>
<text transform="translate(1942.39,663.08) scale(1.0659,1)" font-family='"Liberation Sans", Arial, sans-serif' font-weight="normal" font-size="51.98" fill="#000">1169</text>
<text transform="translate(2082.41,663.08) scale(1.0090,1)" font-family='"Liberation Sans", Arial, sans-serif' font-weight="normal" font-size="51.98" fill="#000">1011</text>
<text transform="translate(1737.36,924.39) scale(1.0434,1)" font-family='"Liberation Sans", Arial, sans-serif' font-weight="normal" font-size="50.99" fill="#000">1450</text>
<text transform="translate(1864.51,924.90) scale(1.0147,1)" font-family='"Liberation Sans", Arial, sans-serif' font-weight="normal" font-size="51.72" fill="#000">1274</text>
<text transform="translate(2161.64,932.79) scale(1.0516,1)" font-family='"Liberation Sans", Arial, sans-serif' font-weight="normal" font-size="51.41" fill="#000">758</text>
<text transform="translate(1921.33,1565.48) scale(1.0895,1)" font-family='"Liberation Sans", Arial, sans-serif' font-weight="normal" font-size="51.55" fill="#000">1100</text>
<text transform="translate(68.75,1768.93) scale(0.9590,1)" font-family='"Liberation Sans", Arial, sans-serif' font-weight="bold" font-size="86.86" fill="#000">4000</text>
<text transform="translate(385.89,1768.85) scale(0.9506,1)" font-family='"Liberation Sans", Arial, sans-serif' font-weight="bold" font-size="86.74" fill="#000">3500</text>
<text transform="translate(700.57,1768.85) scale(0.9548,1)" font-family='"Liberation Sans", Arial, sans-serif' font-weight="bold" font-size="86.74" fill="#000">3000</text>
<text transform="translate(1014.59,1768.93) scale(0.9593,1)" font-family='"Liberation Sans", Arial, sans-serif' font-weight="bold" font-size="86.86" fill="#000">2500</text>
<text transform="translate(1329.68,1768.93) scale(0.9593,1)" font-family='"Liberation Sans", Arial, sans-serif' font-weight="bold" font-size="86.86" fill="#000">2000</text>
<text transform="translate(1643.47,1768.93) scale(0.9606,1)" font-family='"Liberation Sans", Arial, sans-serif' font-weight="bold" font-size="86.86" fill="#000">1500</text>
<text transform="translate(1958.98,1768.93) scale(0.9563,1)" font-family='"Liberation Sans", Arial, sans-serif' font-weight="bold" font-size="86.86" fill="#000">1000</text>
<text transform="translate(2299.20,1768.93) scale(0.9464,1)" font-family='"Liberation Sans", Arial, sans-serif' font-weight="bold" font-size="86.86" fill="#000">500</text>
<text transform="translate(887.92,1921.70) scale(0.9608,1)" font-family='"Liberation Sans", Arial, sans-serif' font-weight="bold" font-size="87.79" fill="#000">Wavenumber(cm</text>
<text transform="translate(1562.51,1884.45) scale(0.9243,1)" font-family='"Liberation Sans", Arial, sans-serif' font-weight="bold" font-size="50.00" fill="#000">−</text>
<text transform="translate(1589.41,1882.10) scale(1.0969,1)" font-family='"Liberation Serif", "Times New Roman", serif' font-weight="bold" font-size="52.27" fill="#000">1</text>
<text transform="translate(1618.53,1920.92) scale(0.8422,1)" font-family='"Liberation Sans", Arial, sans-serif' font-weight="bold" font-size="82.10" fill="#000">)</text>
<text transform="translate(92.50,1205.13) rotate(-90) scale(0.9586,1)" font-family='"Liberation Sans", Arial, sans-serif' font-weight="bold" font-size="87.79" fill="#000">Transmittance(%)</text>
</svg>
</body></html>
